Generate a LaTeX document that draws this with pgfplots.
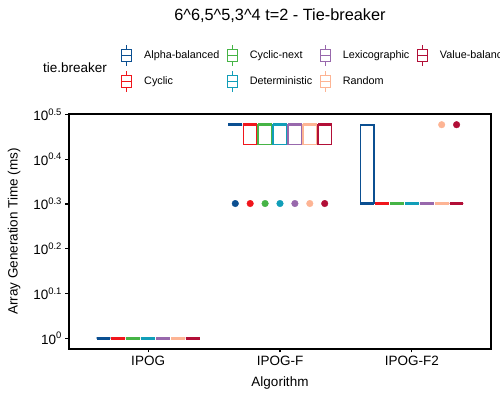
\documentclass[border=0pt]{standalone}
\usepackage{fontspec}
\setmainfont{Liberation Sans}
\usepackage{pgfplots}
\pgfplotsset{compat=1.18}
\usepgfplotslibrary{statistics}
\definecolor{cAlpha}{RGB}{11,79,145}
\definecolor{cCyc}{RGB}{240,22,28}
\definecolor{cNext}{RGB}{70,180,70}
\definecolor{cDet}{RGB}{17,158,184}
\definecolor{cLex}{RGB}{152,104,172}
\definecolor{cRand}{RGB}{253,180,148}
\definecolor{cVal}{RGB}{178,15,55}
\pgfplotsset{
  boxplot/every box/.style={fill=white},
  boxplot/every median/.style={line width=3.2bp},
  boxplot/every whisker/.style={},
}
% box: color, position, lower whisker, q1, median, q3, upper whisker
\newcommand{\bx}[7]{\addplot[color=#1, line width=1.6bp, forget plot,
  boxplot/draw direction=y,
  boxplot prepared={draw position=#2, lower whisker=#3, lower quartile=#4, median=#5,
  upper quartile=#6, upper whisker=#7, box extend=0.104, whisker extend=0}] coordinates {};}
\newcommand{\outl}[3]{\addplot[only marks, mark=*, mark size=3.3bp, draw=#1, fill=#1, forget plot] coordinates {(#2,#3)};}
\begin{document}
\begin{tikzpicture}
\useasboundingbox (0,0) rectangle (500bp,400bp);
\begin{axis}[
  at={(69bp,51bp)}, anchor=south west, scale only axis, width=422bp, height=235bp,
  xmin=0.4, xmax=3.6, ymode=log, ymin=0.946, ymax=3.17,
  xtick={1,2,3}, xticklabels={IPOG,IPOG-F,IPOG-F2},
  ytick={1,1.2589,1.5849,1.9953,2.5119,3.1623},
  yticklabels={10\textsuperscript{0},10\textsuperscript{0.1},10\textsuperscript{0.2},10\textsuperscript{0.3},10\textsuperscript{0.4},10\textsuperscript{0.5}},
  yminorticks=false, xminorticks=false, tick pos=left,
  tick align=outside, major tick length=3.5bp, tick style={black, line width=1.1bp},
  axis line style={black, line width=1.3bp},
  ticklabel style={font=\fontsize{13.5bp}{16bp}\selectfont, black},
  xlabel={Algorithm}, ylabel={Array Generation Time (ms)},
  label style={font=\fontsize{13.5bp}{16bp}\selectfont},
  xlabel style={at={(axis description cs:0.5,-0.145)}, anchor=center},
  ylabel style={at={(axis description cs:-0.130,0.5)}, anchor=center},
  legend columns=4, legend cell align=left,
  legend style={at={(axis description cs:0.1232,1.298)}, anchor=north west, draw=none, fill=none,
    inner sep=0pt, font=\fontsize{10.8bp}{12bp}\selectfont, row sep=4bp,
    /tikz/every even column/.append style={column sep=5.5bp}},
  legend image code/.code={
    \draw[fill=white] (0bp,-6bp) rectangle (10bp,6bp);
    \draw (0bp,0bp)--(10bp,0bp) (5bp,6bp)--(5bp,10.5bp) (5bp,-6bp)--(5bp,-10.5bp);
    \path[draw=none, fill=none] (0bp,0bp) rectangle (20.4bp,0.1bp);},
]
\addlegendimage{draw=cAlpha, line width=1.3bp}\addlegendentry{Alpha-balanced}
\addlegendimage{draw=cNext, line width=1.3bp}\addlegendentry{Cyclic-next}
\addlegendimage{draw=cLex, line width=1.3bp}\addlegendentry{Lexicographic}
\addlegendimage{draw=cVal, line width=1.3bp}\addlegendentry{Value-balanced}
\addlegendimage{draw=cCyc, line width=1.3bp}\addlegendentry{Cyclic}
\addlegendimage{draw=cDet, line width=1.3bp}\addlegendentry{Deterministic}
\addlegendimage{draw=cRand, line width=1.3bp}\addlegendentry{Random}
% IPOG
\bx{cAlpha}{0.661}{1}{1}{1}{1}{1}
\bx{cCyc}{0.774}{1}{1}{1}{1}{1}
\bx{cNext}{0.887}{1}{1}{1}{1}{1}
\bx{cDet}{1.0}{1}{1}{1}{1}{1}
\bx{cLex}{1.113}{1}{1}{1}{1}{1}
\bx{cRand}{1.226}{1}{1}{1}{1}{1}
\bx{cVal}{1.339}{1}{1}{1}{1}{1}
% IPOG-F
\bx{cAlpha}{1.661}{3}{3}{3}{3}{3}
\bx{cCyc}{1.774}{2.71}{2.71}{3}{3}{3}
\bx{cNext}{1.887}{2.71}{2.71}{3}{3}{3}
\bx{cDet}{2.0}{2.71}{2.71}{3}{3}{3}
\bx{cLex}{2.113}{2.71}{2.71}{3}{3}{3}
\bx{cRand}{2.226}{2.71}{2.71}{3}{3}{3}
\bx{cVal}{2.339}{2.71}{2.71}{3}{3}{3}
\outl{cAlpha}{1.661}{2}
\outl{cCyc}{1.774}{2}
\outl{cNext}{1.887}{2}
\outl{cDet}{2.0}{2}
\outl{cLex}{2.113}{2}
\outl{cRand}{2.226}{2}
\outl{cVal}{2.339}{2}
% IPOG-F2
\bx{cAlpha}{2.661}{2}{2}{2}{3}{3}
\bx{cCyc}{2.774}{2}{2}{2}{2}{2}
\bx{cNext}{2.887}{2}{2}{2}{2}{2}
\bx{cDet}{3.0}{2}{2}{2}{2}{2}
\bx{cLex}{3.113}{2}{2}{2}{2}{2}
\bx{cRand}{3.226}{2}{2}{2}{2}{2}
\bx{cVal}{3.339}{2}{2}{2}{2}{2}
\outl{cRand}{3.226}{3}
\outl{cVal}{3.339}{3}
\end{axis}
\node[anchor=base, inner sep=0pt, font=\fontsize{16.3bp}{19bp}\selectfont] at (280bp,379bp) {6\textasciicircum6,5\textasciicircum5,3\textasciicircum4 t=2 - Tie-breaker};
\node[anchor=base west, inner sep=0pt, font=\fontsize{13.5bp}{16bp}\selectfont] at (43bp,327.5bp) {tie.breaker};
\end{tikzpicture}
\end{document}
